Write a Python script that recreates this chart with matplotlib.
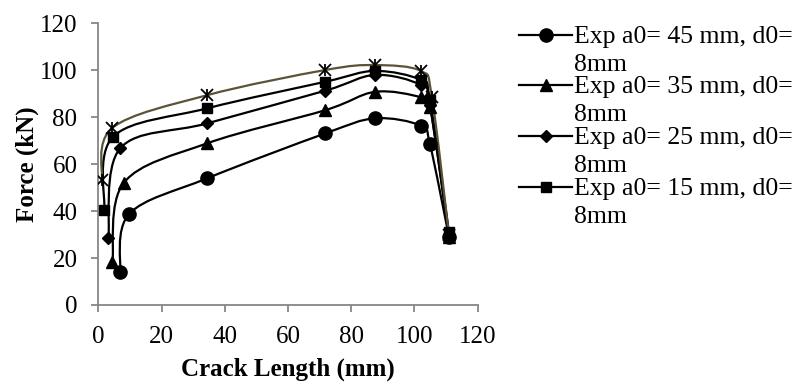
import matplotlib
matplotlib.use("Agg")
import matplotlib.pyplot as plt
import numpy as np
from matplotlib.path import Path
from matplotlib.patches import PathPatch
from matplotlib.lines import Line2D

plt.rcParams['font.family'] = ['Liberation Serif', 'DejaVu Serif']

# Data (crack length in mm, force in kN)
x_45 = [6.9, 9.8, 34.5, 71.8, 87.5, 102.0, 104.9, 110.9]
y_45 = [13.9, 38.8, 54.0, 73.1, 79.5, 76.4, 68.4, 29.1]

x_35 = [4.5, 8.1, 34.5, 71.8, 87.5, 102.0, 104.9, 110.9]
y_35 = [18.4, 52.1, 68.9, 83.0, 90.8, 88.5, 84.5, 29.0]

x_25 = [3.2, 6.9, 34.5, 71.8, 87.5, 102.0, 104.9, 110.9]
y_25 = [28.4, 66.7, 77.4, 91.3, 98.0, 93.7, 85.0, 30.0]

x_15 = [1.9, 4.7, 34.5, 71.8, 87.5, 102.0, 104.9, 110.9]
y_15 = [40.5, 71.7, 83.8, 95.1, 99.7, 95.8, 87.3, 31.0]

x_05 = [1.1, 4.5, 34.5, 71.8, 87.5, 102.0, 105.5, 110.9]
y_05 = [53.2, 75.5, 89.4, 100.1, 102.2, 99.7, 88.7, 30.0]

labels = ['Exp a0= 45 mm, d0=\n8mm', 'Exp a0= 35 mm, d0=\n8mm',
          'Exp a0= 25 mm, d0=\n8mm', 'Exp a0= 15 mm, d0=\n8mm']

OLIVE = '#5a5338'
AXIS_GRAY = '#868686'


def smooth_path(xs, ys):
    """Excel-like smoothed line through the points (Catmull-Rom as Bezier)."""
    pts = np.column_stack([xs, ys])
    n = len(pts)
    verts = [pts[0]]
    codes = [Path.MOVETO]
    for i in range(n - 1):
        p0 = pts[max(i - 1, 0)]
        p1 = pts[i]
        p2 = pts[i + 1]
        p3 = pts[min(i + 2, n - 1)]
        c1 = p1 + (p2 - p0) / 6.0
        c2 = p2 - (p3 - p1) / 6.0
        verts += [c1, c2, p2]
        codes += [Path.CURVE4] * 3
    return Path(verts, codes)


fig = plt.figure(figsize=(7.97, 3.85), dpi=100)
ax = fig.add_axes([0.1233, 0.2078, 0.4761, 0.7317])

series = [
    (x_45, y_45, 'o', 9.5, 'black'),
    (x_35, y_35, '^', 9.0, 'black'),
    (x_25, y_25, 'D', 6.0, 'black'),
    (x_15, y_15, 's', 7.5, 'black'),
]

for xs, ys, mk, ms, col in series:
    ax.add_patch(PathPatch(smooth_path(xs, ys), facecolor='none',
                           edgecolor=col, lw=1.6, zorder=2))
    ax.plot(xs, ys, linestyle='none', marker=mk, markersize=ms,
            color=col, zorder=3)

# fifth series (star markers), olive line
ax.add_patch(PathPatch(smooth_path(x_05, y_05), facecolor='none',
                       edgecolor=OLIVE, lw=1.6, zorder=2.5))
ax.plot(x_05, y_05, linestyle='none', marker='x', markersize=8,
        markeredgewidth=1.3, color='black', zorder=3)
ax.plot(x_05, y_05, linestyle='none', marker='|', markersize=8,
        markeredgewidth=1.3, color='black', zorder=3)

ax.set_xlim(0, 120)
ax.set_ylim(0, 120)
ax.set_xticks(np.arange(0, 121, 20))
ax.set_yticks(np.arange(0, 121, 20))

for side in ['top', 'right']:
    ax.spines[side].set_visible(False)
for side in ['left', 'bottom']:
    ax.spines[side].set_color(AXIS_GRAY)
    ax.spines[side].set_linewidth(1.3)

ax.tick_params(axis='both', direction='out', length=5, width=1.3,
               color=AXIS_GRAY, labelsize=18, labelcolor='black')
ax.tick_params(axis='x', pad=10)
ax.tick_params(axis='y', pad=10)

ax.set_xlabel('Crack Length (mm)', fontsize=18, fontweight='bold', labelpad=7)
ax.set_ylabel('Force (kN)', fontsize=18, fontweight='bold', labelpad=1)

# legend drawn by hand, Excel style (label wraps onto a second line)
W, H = 797.0, 385.0
row_y = [35, 85, 136, 187]
for (xs, ys, mk, ms, col), lab, yy in zip(series, labels, row_y):
    fy = 1 - yy / H
    fig.add_artist(Line2D([519 / W, 572 / W], [fy, fy], color=col, lw=1.6,
                          transform=fig.transFigure))
    fig.add_artist(Line2D([545.5 / W], [fy], color=col, marker=mk,
                          markersize=ms, transform=fig.transFigure))
    fig.text(574 / W, fy + 9 / H, lab, fontsize=18.5, va='top', ha='left',
             linespacing=1.35)

fig.savefig('out.png', dpi=100)
